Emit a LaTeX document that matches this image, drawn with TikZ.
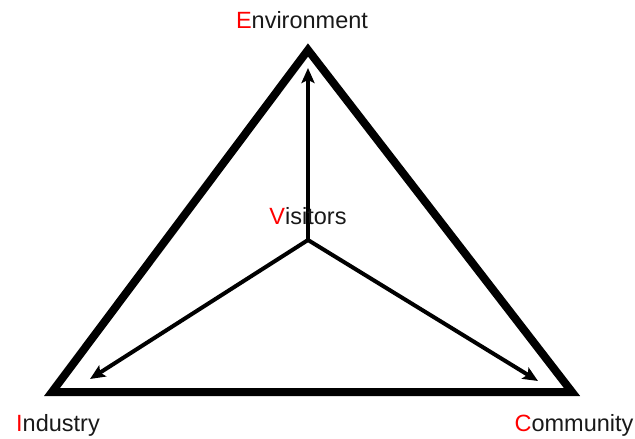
\documentclass[tikz,border=0pt]{standalone}
\usepackage{fontspec}
\setmainfont{Liberation Sans}
\usetikzlibrary{arrows.meta}
\begin{document}
\begin{tikzpicture}[x=1pt,y=-1pt,
  lbl/.style={font=\fontsize{23.5}{26}\selectfont, text=black!90, inner sep=0pt},
  side/.style={line width=8pt, line join=miter},
  arr/.style={line width=4pt, -{Stealth[length=15pt,width=13pt,inset=3pt]}}]
\useasboundingbox (0,0) rectangle (635,439);
\coordinate (E) at (308,50);
\coordinate (I) at (52,392);
\coordinate (C) at (572,392);
\coordinate (V) at (308,240);
\coordinate (Ea) at (308,68);
\coordinate (Ia) at (90,379);
\coordinate (Ca) at (538,381);
\draw[side] (E) -- (I) -- (C) -- cycle;
\draw[arr] (V) -- (Ea);
\draw[arr] (V) -- (Ia);
\draw[arr] (V) -- (Ca);
\node[lbl] (tE) at (302,20) {\textcolor{red}{E}nvironment};
\node[lbl] (tV) at (308,216) {\textcolor{red}{V}isitors};
\node[lbl] (tI) at (58,425) {\textcolor{red}{I}ndustry};
\node[lbl] (tC) at (574,425) {\textcolor{red}{C}ommunity};
\end{tikzpicture}
\end{document}
